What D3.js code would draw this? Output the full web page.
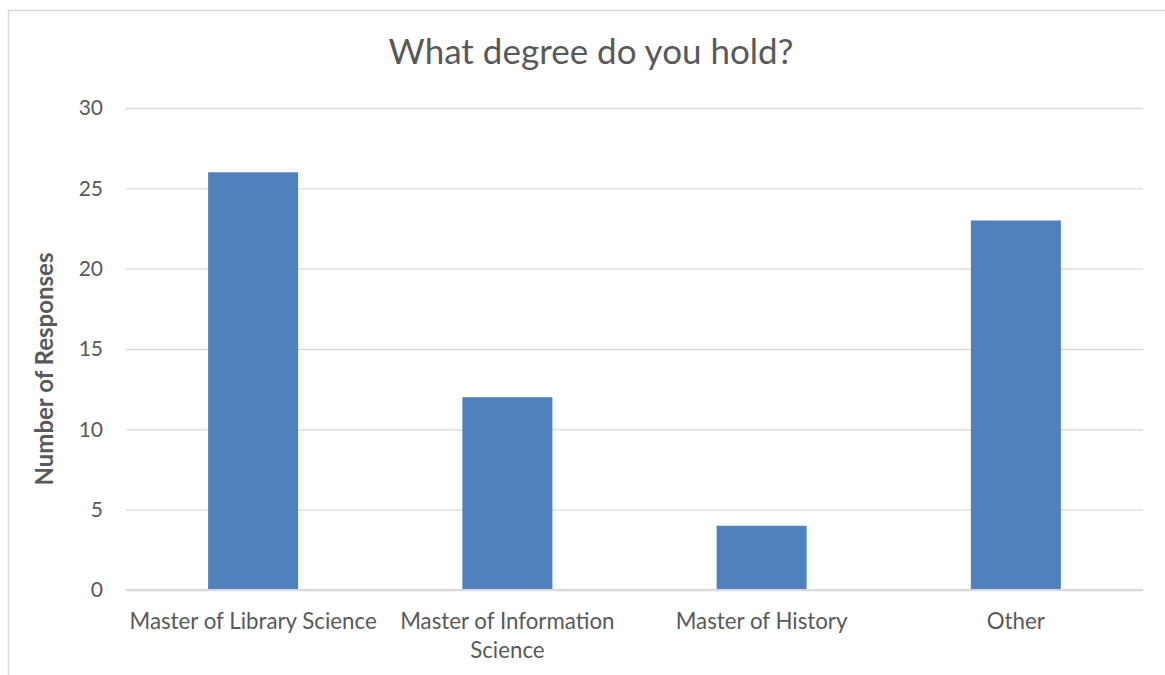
<!DOCTYPE html>
<html>
<head>
<meta charset="utf-8">
<script src="https://cdn.jsdelivr.net/npm/d3@7"></script>
<style>
  html, body { margin: 0; padding: 0; background: #fff; }
  svg { display: block; }
  text { font-family: Lato, "Open Sans", sans-serif; fill: #595959; }
</style>
</head>
<body>
<svg id="chart" width="1165" height="675"></svg>
<script>
// Survey responses by degree held
const categories = [
  ["Master of Library Science"],
  ["Master of Information", "Science"],
  ["Master of History"],
  ["Other"]
];
const responses = [26, 12, 4, 23];
const yTicks = [0, 5, 10, 15, 20, 25, 30];
const titleText = "What degree do you hold?";
const yTitle = "Number of Responses";

const svg = d3.select("#chart");
const W = 1165, H = 675;
const m = { left: 126, right: 22, top: 108, bottom: 85 };

// chart frame (extends past the right and bottom edges)
svg.append("rect")
  .attr("x", 8.5).attr("y", 10.5)
  .attr("width", W + 20).attr("height", H + 20)
  .attr("fill", "#fff").attr("stroke", "#d9d9d9").attr("stroke-width", 1.5);

const x = d3.scaleBand()
  .domain(d3.range(categories.length))
  .range([m.left, W - m.right])
  .paddingInner(0.646).paddingOuter(0.323);

const y = d3.scaleLinear().domain([0, 30]).range([H - m.bottom, m.top]);

// gridlines
const grid = svg.append("g")
  .attr("transform", `translate(${m.left},0)`)
  .call(d3.axisLeft(y).tickValues(yTicks).tickSize(-(W - m.right - m.left)).tickFormat(""));
grid.select(".domain").remove();
grid.selectAll("line").attr("stroke", "#d9d9d9").attr("stroke-width", 1.3);

// bars
svg.append("g").selectAll("rect")
  .data(responses)
  .join("rect")
  .attr("x", (d, i) => x(i))
  .attr("width", x.bandwidth())
  .attr("y", d => y(d))
  .attr("height", d => y(0) - y(d))
  .attr("fill", "#4f81bd");

// baseline
svg.append("line")
  .attr("x1", m.left).attr("x2", W - m.right)
  .attr("y1", y(0)).attr("y2", y(0))
  .attr("stroke", "#d9d9d9").attr("stroke-width", 2);

// y tick labels
const yAxis = svg.append("g")
  .attr("transform", `translate(${m.left - 23},0)`)
  .call(d3.axisLeft(y).tickValues(yTicks).tickSize(0).tickPadding(0));
yAxis.select(".domain").remove();
yAxis.selectAll("text")
  .attr("font-size", 21).attr("fill", "#595959")
  .style("font-family", "Lato, sans-serif");

// x category labels
const xl = svg.append("g").selectAll("text")
  .data(categories)
  .join("text")
  .attr("text-anchor", "middle")
  .attr("font-size", 22.3)
  .attr("x", (d, i) => x(i) + x.bandwidth() / 2)
  .attr("y", 629);
xl.selectAll("tspan")
  .data(d => d)
  .join("tspan")
  .attr("x", function () { return d3.select(this.parentNode).attr("x"); })
  .attr("dy", (d, i) => i === 0 ? 0 : 29)
  .text(d => d);

// title
svg.append("text")
  .attr("x", 591).attr("y", 64)
  .attr("text-anchor", "middle")
  .attr("font-size", 35)
  .text(titleText);

// y axis title
svg.append("text")
  .attr("transform", `translate(53,369) rotate(-90)`)
  .attr("text-anchor", "middle")
  .attr("font-size", 24)
  .attr("font-weight", "bold")
  .text(yTitle);
</script>
</body>
</html>
